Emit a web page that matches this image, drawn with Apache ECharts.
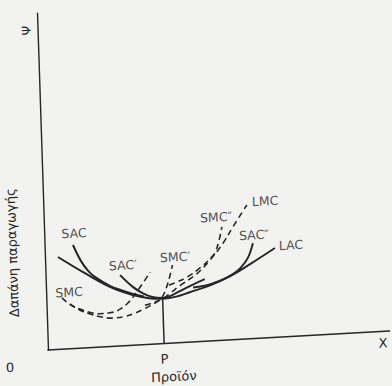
<!DOCTYPE html>
<html>
<head>
<meta charset="utf-8">
<script src="https://cdn.jsdelivr.net/npm/echarts@6/dist/echarts.min.js"></script>
<style>
html,body{margin:0;padding:0;background:#f2f2f0;overflow:hidden;}
#c{width:400px;height:400px;transform-origin:48px 350px;transform:matrix(0.9985,-0.0555,0.0326,0.9995,0,0);}
</style>
</head>
<body>
<div id="c"></div>
<script>
// Output level P where LAC is at its minimum
const P = 34;
const lacMin = 13.3;
// Solid average cost curves
const lac   = [[3.8,27.4],[11,22.5],[18.7,17.7],[25.4,14.9],[30,13.7],[34,13.3],[38,13.7],[42,14.8],[48,16.5],[54,18.9],[60,22.2],[67.3,26.5]];
const sac   = [[8.3,30.7],[10.5,25.8],[12.5,22.8],[14.5,20.8],[18.7,18.0],[22,16.5],[25.4,15.2],[28.5,14.3]];
const sac1  = [[21.8,21.0],[25.4,17.3],[28.3,15.2],[31,14.0],[34,13.5],[37,14.3],[40,15.7],[43,17.0],[46.5,18.4]];
const sac2  = [[43,16.1],[46,16.4],[49,17.1],[52,18.1],[55,19.6],[57,21.1],[59.3,24.0],[60.9,28.3]];
// Dashed marginal cost curves
const smc   = [[4.6,15.2],[7,13.0],[9.7,11.6],[12.5,10.5],[15.5,9.9],[18.5,10.0],[20.8,10.6],[23.8,12.6],[26.9,16.3],[30.6,21.4]];
const smc1  = [[6.9,13.3],[9.5,11.4],[12.6,10.0],[16,8.9],[19,8.4],[22.5,8.6],[25.8,9.5],[28.5,10.6],[30.2,11.4],[32.5,12.6],[34,14.0],[35.2,16.5],[36.2,19.5],[37.2,23.1]];
const smc2  = [[36,17.2],[38,17.9],[41.3,19.3],[45.2,21.8],[48.8,24.9],[49.8,26.2],[51.0,29.5],[52.0,33.6]];
const lmc   = [[28.8,11.7],[31.5,12.4],[34,13.3],[36.5,15.0],[39.2,16.9],[44.3,20.2],[48.2,24.0],[52.2,28.8],[55.2,33.4],[59.5,39.7]];
// Curve labels
const labelText = ['SAC','SAC′','SMC′','SMC','SMC″','LMC','SAC″','LAC'];
const labelPos  = [[8.7,34.2],[22.7,23.9],[38.0,25.5],[6.7,16.8],[50.4,36.6],[64.9,40.6],[61.3,30.7],[72.0,27.1]];
// Axis texts
const yName = 'Δαπάνη παραγωγής';
const xName = 'Προϊόν';
const yTop = 'Ψ';
const xEnd = 'X';

const ink = '#262626';
const font = 'DejaVu Sans';
function solid(d){return {type:'line',data:d,smooth:0.4,symbol:'none',silent:true,lineStyle:{color:ink,width:2,type:'solid'}};}
function dashed(d){return {type:'line',data:d,smooth:0.4,symbol:'none',silent:true,lineStyle:{color:ink,width:1.6,type:[6,4]}};}

const chart = echarts.init(document.getElementById('c'), null, {renderer:'svg'});
chart.setOption({
  animation:false,
  backgroundColor:'#f2f2f0',
  grid:{left:48,top:13,width:342,height:337,containLabel:false,outerBoundsMode:'none'},
  xAxis:{
    type:'value',min:0,max:100,interval:2,
    name:xName,nameLocation:'middle',nameGap:27,nameMoveOverlap:false,
    nameTextStyle:{fontFamily:font,fontSize:13,color:ink,padding:[0,92,0,0]},
    axisLine:{show:true,lineStyle:{color:ink,width:1.6}},
    axisTick:{show:false},splitLine:{show:false},
    axisLabel:{
      margin:5,fontFamily:font,fontSize:13,color:ink,
      formatter:function(v){
        if(v===0) return '{o|0}';
        if(v===P) return '{p|P}';
        if(v===98) return xEnd;
        return '';
      },
      rich:{o:{fontFamily:font,fontSize:13,color:ink,padding:[4,77,0,0]},p:{fontFamily:font,fontSize:13,color:ink,padding:[4,0,0,0]}}
    }
  },
  yAxis:{
    type:'value',min:0,max:100,interval:5,
    name:yName,nameLocation:'middle',nameGap:26,nameRotate:90,nameMoveOverlap:false,
    nameTextStyle:{fontFamily:font,fontSize:13,color:ink,padding:[0,139,0,0]},
    axisLine:{show:true,lineStyle:{color:ink,width:1.4}},
    axisTick:{show:false},splitLine:{show:false},
    axisLabel:{margin:5,rotate:90,fontFamily:font,fontSize:12,color:ink,
      formatter:function(v){return v===95?yTop:'';}}
  },
  series:[
    solid(lac),solid(sac),solid(sac1),solid(sac2),
    dashed(smc),dashed(smc1),dashed(smc2),dashed(lmc),
    {type:'line',data:[[P,0],[P,lacMin]],symbol:'none',silent:true,lineStyle:{color:ink,width:1.5}},
    {type:'scatter',symbolSize:0,silent:true,
     data:labelPos.map((p,i)=>({name:labelText[i],value:p})),
     label:{show:true,position:'inside',formatter:'{b}',fontFamily:font,fontSize:12.5,color:ink}}
  ]
});
</script>
</body>
</html>
